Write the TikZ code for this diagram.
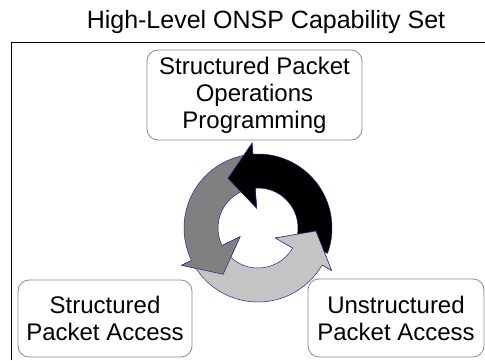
\documentclass[tikz,border=0pt]{standalone}
\usepackage{fontspec}
\setmainfont{Liberation Sans}
\usepackage{xcolor}
\definecolor{cyclegray}{HTML}{808080}
\definecolor{cyclelight}{HTML}{C4C4C4}
\definecolor{cycleedge}{HTML}{26268C}
\definecolor{boxedge}{HTML}{8A8A8A}

% one arrow of the ring: tail angle, head base angle, colour
\newcommand{\cycarrow}[3]{%
  \filldraw[cyc,fill=#3] (#1:74) arc[start angle=#1,end angle=#2,radius=74]
    -- (#2:85) -- (#2+27:58) -- (#2:20) -- (#2:40)
    arc[start angle=#2,end angle=#1,radius=40] -- cycle;}
% head laid again on top of the next tail
\newcommand{\cychead}[2]{%
  \fill[#2] (#1:74) -- (#1:85) -- (#1+27:58) -- (#1:20) -- (#1:40) -- cycle;
  \draw[cyc] (#1:74) -- (#1:85) -- (#1+27:58) -- (#1:20) -- (#1:40);}

\begin{document}
\begin{tikzpicture}[x=1pt,y=1pt,
  cyc/.style={draw=cycleedge,line width=.5pt,line join=miter},
  capbox/.style={draw=boxedge,line width=.8pt,rounded corners=11pt,
    align=center,inner sep=0pt,font=\fontsize{24}{27}\selectfont}]
  \useasboundingbox (0,0) rectangle (485,360);

  \node[font=\fontsize{25}{28}\selectfont,anchor=base] (title) at (266,332)
    {High-Level ONSP Capability Set};
  \draw[line width=.9pt] (11,0) -- (11,318) -- (485,318);

  % ring of three arrows
  \begin{scope}[shift={(258,132)}]
    \cycarrow{100}{206}{cyclegray}
    \cycarrow{212}{330}{cyclelight}
    \cycarrow{-20}{94}{black}
    \cychead{206}{cyclegray}
    \cychead{330}{cyclelight}
    \cychead{94}{black}
  \end{scope}

  \node[capbox,minimum width=215pt,minimum height=90pt] (spop) at (254.5,265)
    {Structured Packet\\Operations\\Programming};
  \node[capbox,minimum width=174pt,minimum height=77pt] (spa) at (105,41.5)
    {Structured\\Packet Access};
  \node[capbox,minimum width=176pt,minimum height=78pt] (upa) at (396,42)
    {Unstructured\\Packet Access};
\end{tikzpicture}
\end{document}
